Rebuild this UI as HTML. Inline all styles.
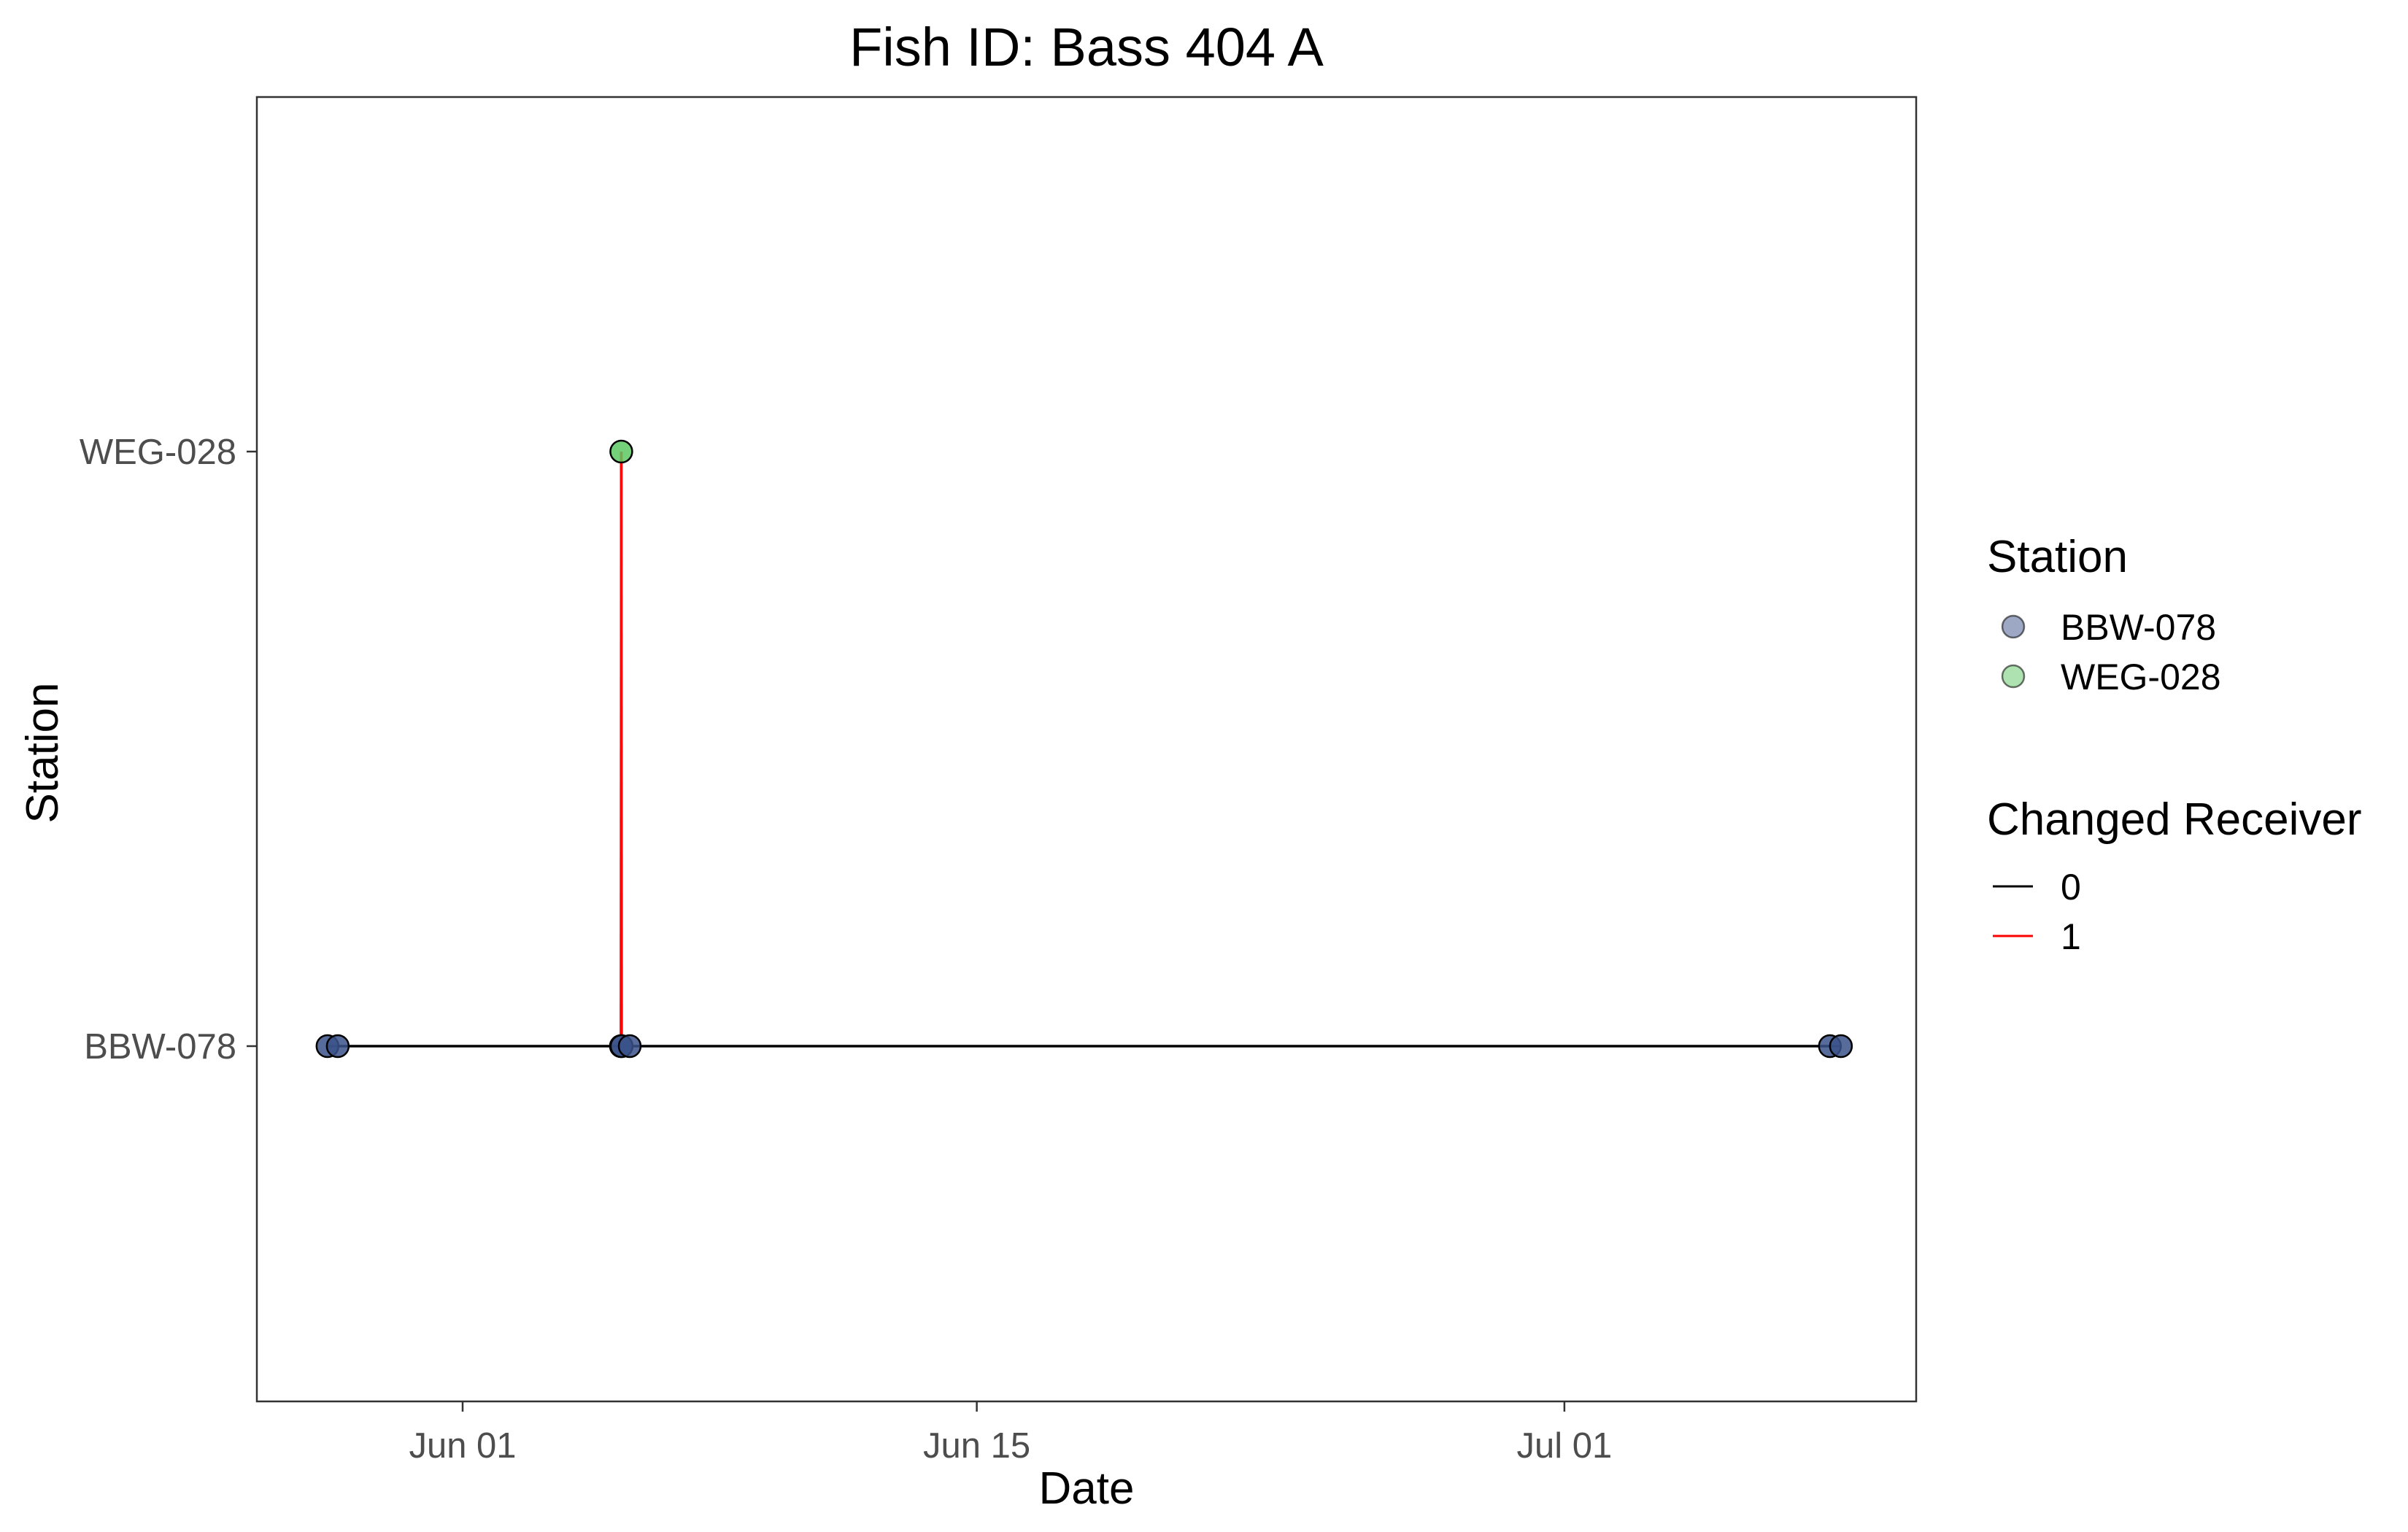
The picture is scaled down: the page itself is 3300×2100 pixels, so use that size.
<!DOCTYPE html>
<html><head><meta charset="utf-8"><style>
html,body{margin:0;padding:0;background:#fff;}
svg{display:block;font-family:"Liberation Sans",Arial,sans-serif;}
</style></head><body>
<svg id="chart" width="3300" height="2100" viewBox="0 0 3300 2100">
<rect x="0" y="0" width="3300" height="2100" fill="#fff"/>
<text x="1489" y="90" font-size="74" text-anchor="middle" fill="#000">Fish ID: Bass 404 A</text>
<g id="plot"></g>
<rect x="352" y="133" width="2274" height="1788" fill="none" stroke="#333" stroke-width="2.5"/>
<g id="axes"></g>
<text x="1489" y="2061" font-size="62" text-anchor="middle" fill="#000">Date</text>
<text x="0" y="0" font-size="62" text-anchor="middle" fill="#000" transform="translate(79,1032) rotate(-90)">Station</text>
<g>
<text x="2723" y="784" font-size="62" fill="#000">Station</text>
<g>
<circle cx="2759" cy="859" r="15" fill="#3B528B" fill-opacity="0.5" stroke="#000" stroke-opacity="0.55" stroke-width="2.5"/>
<text x="2824" y="877" font-size="50" fill="#000">BBW-078</text></g>
<g>
<circle cx="2759" cy="927" r="15" fill="#5DC863" fill-opacity="0.5" stroke="#000" stroke-opacity="0.55" stroke-width="2.5"/>
<text x="2824" y="945" font-size="50" fill="#000">WEG-028</text></g>
</g>
<g>
<text x="2723" y="1144" font-size="62" fill="#000">Changed Receiver</text>
<g>
<line x1="2731" y1="1215" x2="2786" y2="1215" stroke="#000" stroke-width="3"/>
<text x="2824" y="1233" font-size="50" fill="#000">0</text></g>
<g>
<line x1="2731" y1="1283" x2="2786" y2="1283" stroke="#FF0000" stroke-width="3"/>
<text x="2824" y="1301" font-size="50" fill="#000">1</text></g>
</g>
</svg>
<script>
// days relative to Jun 01
const detectDays = [-3.68, -3.40, 4.31, 4.32, 4.33, 4.55, 37.23, 37.53];
const detectStation = ["BBW-078","BBW-078","BBW-078","WEG-028","BBW-078","BBW-078","BBW-078","BBW-078"];
const changedFlag = [0, 0, 1, 1, 0, 0, 0];
const stationCats = ["BBW-078","WEG-028"];
const xTickDays = [0, 14, 30];
const xTickLabels = ["Jun 01","Jun 15","Jul 01"];

const NS = "http://www.w3.org/2000/svg";
const X0 = 634, PXDAY = 50.33;
function xs(d){ return X0 + d*PXDAY; }
function ys(s){ const i = stationCats.indexOf(s); return 1434 - i*(1434-619); }
const colors = {"BBW-078":"#3B528B","WEG-028":"#5DC863"};
const plot = document.getElementById('plot');
const axes = document.getElementById('axes');
function mk(tag, attrs, parent){ const e=document.createElementNS(NS,tag); for(const k in attrs) e.setAttribute(k,attrs[k]); parent.appendChild(e); return e; }

for (let i=0;i<detectDays.length-1;i++){
  if (changedFlag[i]) continue;
  const l = mk('line',{x1:xs(detectDays[i]),y1:ys(detectStation[i]),x2:xs(detectDays[i+1]),y2:ys(detectStation[i+1]),stroke:'#000','stroke-width':3.5},plot);
  
  
}
for (let i=0;i<detectDays.length-1;i++){
  if (!changedFlag[i]) continue;
  const l = mk('line',{x1:xs(detectDays[i]),y1:ys(detectStation[i]),x2:xs(detectDays[i+1]),y2:ys(detectStation[i+1]),stroke:'#FF0000','stroke-width':3.5},plot);
  
  
}
for (let i=0;i<detectDays.length;i++){
  const c = mk('circle',{cx:xs(detectDays[i]),cy:ys(detectStation[i]),r:15,fill:colors[detectStation[i]],'fill-opacity':0.85,stroke:'#000','stroke-width':2.5},plot);
  
  
}
stationCats.forEach(s=>{
  const t = mk('line',{x1:338,y1:ys(s),x2:352,y2:ys(s),stroke:'#333','stroke-width':2.5},axes);
  
  
  const tx = mk('text',{x:324,y:ys(s)+17,'font-size':49,'text-anchor':'end',fill:'#4D4D4D'},axes);
  tx.textContent = s;
  
  
});
xTickDays.forEach((d,i)=>{
  const t = mk('line',{x1:xs(d),y1:1921,x2:xs(d),y2:1935,stroke:'#333','stroke-width':2.5},axes);
  
  
  const tx = mk('text',{x:xs(d),y:1998,'font-size':49,'text-anchor':'middle',fill:'#4D4D4D'},axes);
  tx.textContent = xTickLabels[i];
  
  
});
</script>
</body></html>
